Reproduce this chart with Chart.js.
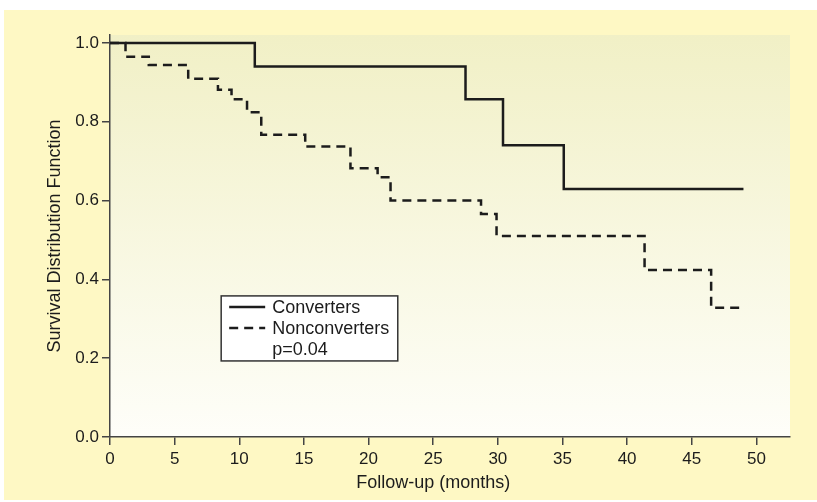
<!DOCTYPE html>
<html>
<head>
<meta charset="utf-8">
<script src="https://cdn.jsdelivr.net/npm/chart.js@4.4.0/dist/chart.umd.min.js"></script>
<style>
  html, body { margin: 0; padding: 0; background: #fff; }
  #wrap { position: relative; width: 817px; height: 502px; }
  #bg { position: absolute; left: 4px; top: 10px; width: 813px; height: 490px; background: #fef8c4; }
  #chart { position: absolute; left: 0; top: 0; }
</style>
</head>
<body>
<div id="wrap">
  <div id="bg"></div>
  <canvas id="chart" width="817" height="502"></canvas>
</div>
<script>
// Kaplan-Meier steps (months, survival)
const converterMonths = [0, 11.2, 27.5, 30.4, 35.1, 49];
const converterSurv   = [1.0, 0.94, 0.857, 0.74, 0.629, 0.629];

const nonconverterMonths = [0, 1.2, 3.0, 6.05, 8.35, 9.4, 10.6, 11.7, 15.1, 18.6, 20.7, 21.7, 28.7, 29.9, 41.35, 46.5, 49];
const nonconverterSurv   = [1.0, 0.965, 0.944, 0.909, 0.881, 0.857, 0.824, 0.767, 0.737, 0.682, 0.659, 0.60, 0.566, 0.51, 0.424, 0.328, 0.328];

const xTicks = [0, 5, 10, 15, 20, 25, 30, 35, 40, 45, 50];
const yTicks = [0, 0.2, 0.4, 0.6, 0.8, 1.0];

const legendLabels = ['Converters', 'Nonconverters', 'p=0.04'];
const xTitle = 'Follow-up (months)';

const INK = '#1c1c1c';
const FONT = '"Liberation Sans", Arial, sans-serif';

function toPoints(xs, ys) {
  return xs.map((x, i) => ({ x, y: ys[i] }));
}

// soft gradient inside the plot area
const plotBg = {
  id: 'plotBg',
  beforeDraw(chart) {
    const { ctx, chartArea: a } = chart;
    const g = ctx.createLinearGradient(0, a.top, 0, a.bottom);
    g.addColorStop(0, '#f1f0c6');
    g.addColorStop(1, '#fefef9');
    ctx.save();
    ctx.fillStyle = g;
    ctx.fillRect(a.left, a.top, a.right - a.left, a.bottom - a.top);
    ctx.restore();
  }
};

// x title sits under the middle of the tick range, not the middle of the axis
const xTitleUnder = {
  id: 'xTitleUnder',
  afterDraw(chart) {
    const { ctx, scales: { x } } = chart;
    const cx = x.getPixelForValue((xTicks[0] + xTicks[xTicks.length - 1]) / 2);
    ctx.save();
    ctx.fillStyle = INK;
    ctx.font = '18px ' + FONT;
    ctx.textAlign = 'center';
    ctx.textBaseline = 'middle';
    ctx.fillText(xTitle, cx, x.bottom - 19);
    ctx.restore();
  }
};

// boxed legend inside the plot, placed in data units
const boxLegend = {
  id: 'boxLegend',
  afterDatasetsDraw(chart) {
    const { ctx, scales: { x, y } } = chart;
    const left = x.getPixelForValue(8.6), right = x.getPixelForValue(22.26);
    const top = y.getPixelForValue(0.358), bottom = y.getPixelForValue(0.193);
    ctx.save();
    ctx.fillStyle = '#fff';
    ctx.fillRect(left, top, right - left, bottom - top);
    ctx.strokeStyle = '#333';
    ctx.lineWidth = 1.5;
    ctx.strokeRect(left, top, right - left, bottom - top);

    const rowH = 21;
    const y0 = top + 11;
    const lx0 = left + 8, lx1 = left + 44;
    ctx.lineWidth = 2.5;
    ctx.strokeStyle = INK;
    chart.data.datasets.forEach((ds, i) => {
      ctx.setLineDash(ds.borderDash || []);
      ctx.beginPath();
      ctx.moveTo(lx0, y0 + i * rowH);
      ctx.lineTo(lx1, y0 + i * rowH);
      ctx.stroke();
    });
    ctx.setLineDash([]);
    ctx.fillStyle = INK;
    ctx.font = '18px ' + FONT;
    ctx.textBaseline = 'middle';
    legendLabels.forEach((t, i) => ctx.fillText(t, left + 51, y0 + 1 + i * rowH));
    ctx.restore();
  }
};

const ctx = document.getElementById('chart');
new Chart(ctx, {
  type: 'line',
  data: {
    datasets: [
      {
        label: legendLabels[0],
        data: toPoints(converterMonths, converterSurv),
        borderColor: INK,
        borderWidth: 2.5,
        stepped: true,
        pointRadius: 0,
        fill: false
      },
      {
        label: legendLabels[1],
        data: toPoints(nonconverterMonths, nonconverterSurv),
        borderColor: INK,
        borderWidth: 2.5,
        borderDash: [9, 6],
        stepped: true,
        pointRadius: 0,
        fill: false
      }
    ]
  },
  options: {
    responsive: false,
    animation: false,
    layout: { padding: { top: 35, right: 27, bottom: 0, left: 0 } },
    plugins: {
      legend: { display: false },
      tooltip: { enabled: false }
    },
    scales: {
      x: {
        type: 'linear',
        min: 0,
        max: 52.6,
        afterFit(s) { s.height = 65; },
        afterBuildTicks(s) { s.ticks = xTicks.map(v => ({ value: v })); },
        grid: { drawOnChartArea: false, tickLength: 8, color: '#444', lineWidth: 1.5 },
        border: { display: true, color: '#444', width: 1.5 },
        ticks: { color: INK, font: { family: FONT, size: 17 }, padding: 4, maxRotation: 0 },
        title: { display: false }
      },
      y: {
        min: 0,
        max: 1.02,
        afterFit(s) { s.width = 110; },
        afterBuildTicks(s) { s.ticks = yTicks.map(v => ({ value: v })); },
        grid: { drawOnChartArea: false, tickLength: 8, color: '#444', lineWidth: 1.5 },
        border: { display: true, color: '#444', width: 1.5 },
        ticks: {
          color: INK,
          font: { family: FONT, size: 17 },
          padding: 3,
          callback: v => v.toFixed(1)
        },
        title: {
          display: true,
          text: 'Survival Distribution Function',
          color: INK,
          font: { family: FONT, size: 18 },
          padding: { top: 44, bottom: 0 }
        }
      }
    }
  },
  plugins: [plotBg, boxLegend, xTitleUnder]
});
</script>
</body>
</html>
